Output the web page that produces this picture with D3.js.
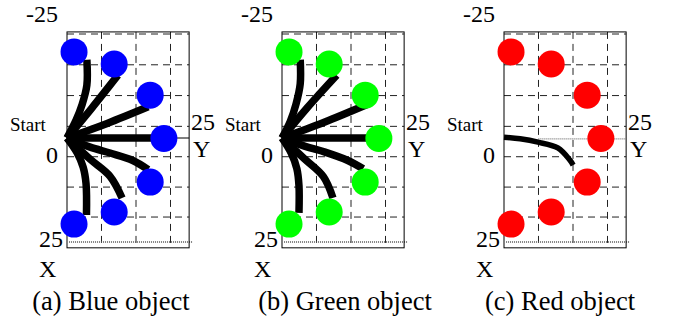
<!DOCTYPE html>
<html>
<head>
<meta charset="utf-8">
<script src="https://cdn.jsdelivr.net/npm/d3@7"></script>
<style>
  body { margin: 0; background: #fff; }
</style>
</head>
<body>
<svg width="674" height="325"></svg>
<script>
// target positions (Y = horizontal, X = vertical), shared by all three panels
const targetY = [1.7, 11.4, 20.1, 23.4, 20.1, 11.4, 1.7];
const targetX = [-20.7, -17.8, -10.3, 0.1, 10.6, 17.8, 20.7];

// grid values
const gridY = [8.33, 16.67, 25];
const gridX = [-25, -17.6, -10.2, -2.8, 4.5, 11.8, 19.0];

// trajectories, [Y, X] pairs
const blueTracks = [
    [[0, 0], [2.2, -4.3], [3.6, -7.9], [4.8, -12.7], [4.8, -18.8]],
    [[0, 0], [6, -7.2], [12.3, -15.1]],
    [[0, 0], [9.7, -3.5], [19.6, -7.5]],
    [[0, 0], [22.5, 0]],
    [[0, 0], [5.6, 2.2], [10.4, 3.6], [15.9, 5.4], [19.6, 7.6]],
    [[0, 0], [5.6, 5.1], [10.4, 9.2], [13.3, 14.4]],
    [[0, 0], [2.4, 3.5], [3.9, 7], [4.6, 11], [4.7, 18.5]]
];
const greenTracks = [
    [[0, 0], [2.0, -4.0], [3.4, -8.2], [4.4, -13.0], [4.4, -18.8]],
    [[0, 0], [6.2, -7.4], [13.2, -15.1]],
    [[0, 0], [10.2, -3.8], [20.4, -8.0]],
    [[0, 0], [21.2, 0]],
    [[0, 0], [5.6, 2.0], [10.4, 3.4], [15.9, 5.4], [19.6, 7.4]],
    [[0, 0], [5.4, 5.0], [10.0, 9.3], [12.3, 14.4]],
    [[0, 0], [2.2, 3.6], [3.6, 7.4], [4.1, 11.5], [4.1, 18.0]]
];
const redTracks = [
    [[0, -0.2], [3.9, 0.2], [8.2, 1.0], [13.0, 2.4], [15.9, 5.3], [16.7, 6.5]]
];

const panels = [
    {offset: 0, color: "#0000ff", tracks: blueTracks, trackWidth: 7.5, caption: "(a) Blue object", capX: 111, marker: "solid"},
    {offset: 215, color: "#00ff00", tracks: greenTracks, trackWidth: 7.5, caption: "(b) Green object", capX: 130, marker: "none"},
    {offset: 437, color: "#ff0000", tracks: redTracks, trackWidth: 5.5, caption: "(c) Red object", capX: 123, marker: "dotted"}
];

const FONT = "'Liberation Serif', 'DejaVu Serif', 'Times New Roman', serif";

const svg = d3.select("svg");

// horizontal axis is Y, vertical axis is X
const hScale = d3.scaleLinear().domain([0, 25]).range([67, 170.5]);
const vScale = d3.scaleLinear().domain([-25, 25]).range([34, 242]);

const line = d3.line()
    .x(d => hScale(d[0]))
    .y(d => vScale(d[1]))
    .curve(d3.curveCatmullRom);

function label(g, x, y, size, txt, anchor) {
    g.append("text")
        .attr("x", x).attr("y", y)
        .attr("font-family", FONT)
        .attr("font-size", size)
        .attr("text-anchor", anchor || "start")
        .attr("fill", "#000")
        .text(txt);
}

panels.forEach(p => {
    const g = svg.append("g").attr("transform", `translate(${p.offset},0)`);

    // grid
    g.selectAll(".gv").data(gridY).enter().append("line")
        .attr("x1", d => hScale(d)).attr("x2", d => hScale(d))
        .attr("y1", vScale(-25.5)).attr("y2", vScale(26.4))
        .attr("stroke", "#222").attr("stroke-width", 1)
        .attr("stroke-dasharray", "7,5");
    g.selectAll(".gh").data(gridX).enter().append("line")
        .attr("x1", hScale(0)).attr("x2", hScale(29.5))
        .attr("y1", d => vScale(d)).attr("y2", d => vScale(d))
        .attr("stroke", "#222").attr("stroke-width", 1)
        .attr("stroke-dasharray", "7,5");

    // X = 25 line
    g.append("line")
        .attr("x1", hScale(0.5)).attr("x2", hScale(30.3))
        .attr("y1", vScale(25)).attr("y2", vScale(25))
        .attr("stroke", "#555").attr("stroke-width", 1.3)
        .attr("stroke-dasharray", "1,1");

    // frame
    g.append("rect")
        .attr("x", hScale(0)).attr("y", vScale(-25.5))
        .attr("width", hScale(29.5) - hScale(0))
        .attr("height", vScale(26.4) - vScale(-25.5))
        .attr("fill", "none").attr("stroke", "#000").attr("stroke-width", 1);

    // Y axis marker at X = 0
    if (p.marker === "solid") {
        g.append("line")
            .attr("x1", hScale(26)).attr("x2", hScale(29.5))
            .attr("y1", vScale(0)).attr("y2", vScale(0))
            .attr("stroke", "#000").attr("stroke-width", 1);
    } else if (p.marker === "dotted") {
        g.append("line")
            .attr("x1", hScale(8.3)).attr("x2", hScale(29.5))
            .attr("y1", vScale(0.2)).attr("y2", vScale(0.2))
            .attr("stroke", "#777").attr("stroke-width", 1.3)
            .attr("stroke-dasharray", "1,1");
    }

    // trajectories
    g.selectAll(".track").data(p.tracks).enter().append("path")
        .attr("class", "track")
        .attr("d", line)
        .attr("fill", "none")
        .attr("stroke", "#000")
        .attr("stroke-width", p.trackWidth)
        .attr("stroke-linejoin", "round");

    // targets
    g.selectAll(".target").data(targetY).enter().append("circle")
        .attr("cx", d => hScale(d))
        .attr("cy", (d, i) => vScale(targetX[i]))
        .attr("r", 13.5)
        .attr("fill", p.color);

    // labels
    label(g, 26, 22, 24, "-25");
    label(g, 10, 131, 19, "Start");
    label(g, 58, 163, 24, "0", "end");
    label(g, 63, 247, 24, "25", "end");
    label(g, 39, 277, 24, "X");
    label(g, 191, 130, 24, "25");
    label(g, 193, 157, 24, "Y");
    label(g, p.capX, 310, 26.5, p.caption, "middle");
});
</script>
</body>
</html>
